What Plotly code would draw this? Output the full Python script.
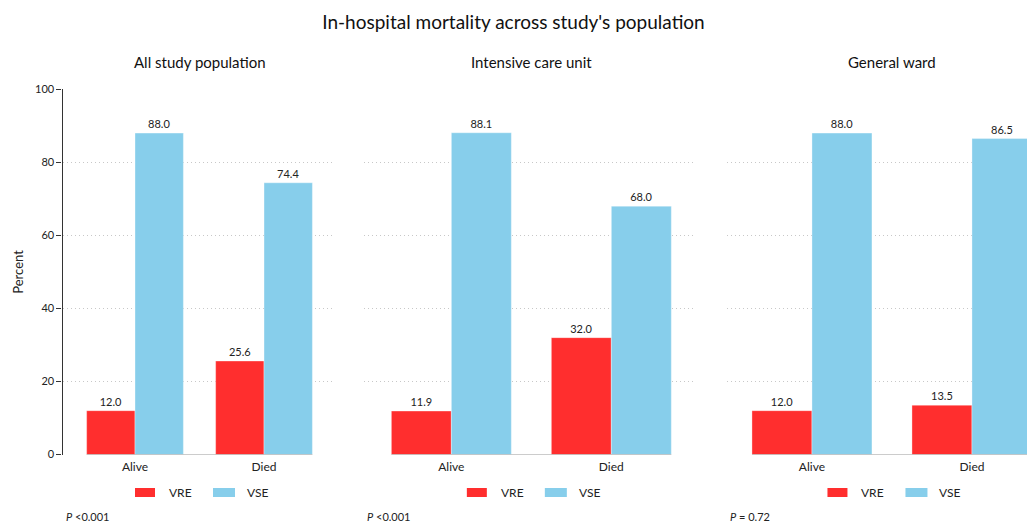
import plotly.graph_objects as go

# ---- data ----
categories = ["Alive", "Died"]
panel_titles = ["All study population", "Intensive care unit", "General ward"]
vre_all = [12.0, 25.6]
vse_all = [88.0, 74.4]
vre_icu = [11.9, 32.0]
vse_icu = [88.1, 68.0]
vre_ward = [12.0, 13.5]
vse_ward = [88.0, 86.5]
p_labels = ["<i>P</i> &lt;0.001", "<i>P</i> &lt;0.001", "<i>P</i> = 0.72"]
series_names = ["VRE", "VSE"]
y_ticks = [0, 20, 40, 60, 80, 100]

# ---- style ----
W, H = 1027, 523
FONT = "Lato"
RED = "#FF2E2E"
BLUE = "#87CEEB"
TEXT = "#222222"

panels = [(vre_all, vse_all), (vre_icu, vse_icu), (vre_ward, vse_ward)]
x_domains = [(62.5 / W, 333.3 / W), (364 / W, 695 / W), (727 / W, 1.0)]
x_ranges = [(-0.562, 1.537), (-0.546, 1.523), (-0.531, 1.344)]
y_domain = ((H - 454.5) / H, (H - 89.3) / H)
bargap = 0.25

fig = go.Figure()

for i, (vre, vse) in enumerate(panels):
    ax = "" if i == 0 else str(i + 1)
    for name, vals, col in zip(series_names, (vre, vse), (RED, BLUE)):
        fig.add_trace(go.Bar(
            x=categories, y=vals, name=name,
            marker=dict(color=col, line=dict(color="rgba(255,255,255,0.35)", width=1)),
            texttemplate="%{y:.1f}", textposition="outside",
            textfont=dict(family=FONT, size=11, color=TEXT),
            cliponaxis=False, showlegend=False,
            xaxis="x" + ax, yaxis="y" + ax,
        ))

layout = dict(
    width=W, height=H,
    margin=dict(l=0, r=0, t=0, b=0, autoexpand=False),
    paper_bgcolor="white", plot_bgcolor="white",
    barmode="group", bargap=bargap, bargroupgap=0,
    font=dict(family=FONT, color=TEXT),
    title=dict(text="In-hospital mortality across study's population",
               x=0.5, xanchor="center", y=(H - 22) / H, yanchor="middle",
               font=dict(family=FONT, size=19, color="#111111")),
    showlegend=False,
)

annotations = []
shapes = []
half = (1 - bargap) / 2
for i in range(3):
    ax = "" if i == 0 else str(i + 1)
    xa = "xaxis" + ax
    ya = "yaxis" + ax
    layout[xa] = dict(
        domain=list(x_domains[i]), range=list(x_ranges[i]),
        anchor="y" + ax, showline=False, showgrid=False, zeroline=False,
        ticks="", tickfont=dict(family=FONT, size=12, color=TEXT),
        ticklabelstandoff=3, automargin=False, fixedrange=True,
    )
    layout[ya] = dict(
        domain=list(y_domain), range=[0, 100], anchor="x" + ax,
        tickvals=y_ticks, showgrid=True, gridcolor="#c8c8c8", gridwidth=1,
        griddash="1px,3px", zeroline=False, automargin=False, fixedrange=True,
    )
    if i == 0:
        layout[ya].update(
            showline=True, linecolor="#333333", linewidth=1.3,
            ticks="outside", ticklen=5, tickcolor="#333333",
            showticklabels=True, tickfont=dict(family=FONT, size=11, color=TEXT),
            title=dict(text="Percent", font=dict(family=FONT, size=13, color=TEXT), standoff=8),
        )
    else:
        layout[ya].update(showline=False, ticks="", showticklabels=False)

    # baseline under the bars
    shapes.append(dict(type="line", xref="x" + ax, yref="y" + ax,
                       x0=-half, x1=len(categories) - 1 + half, y0=0, y1=0,
                       line=dict(color="#9a9a9a", width=1), layer="above"))

    # panel centre in pixels (midway between the two categories)
    d0, d1 = x_domains[i]
    r0, r1 = x_ranges[i]
    cx = d0 * W + (0.5 - r0) / (r1 - r0) * (d1 - d0) * W

    # panel title
    annotations.append(dict(text=panel_titles[i], x=cx / W, xref="paper",
                            y=(H - 62) / H, yref="paper", xanchor="center",
                            yanchor="middle", showarrow=False,
                            font=dict(family=FONT, size=15, color="#111111")))

    # legend: swatch + label per series
    ly0, ly1 = (H - 497) / H, (H - 488) / H
    for (s0, s1, tx), name, col in zip([(-64.5, -44.5, -32.5), (13.5, 35.5, 45.5)],
                                       series_names, (RED, BLUE)):
        shapes.append(dict(type="rect", xref="paper", yref="paper",
                           x0=(cx + s0) / W, x1=(cx + s1) / W, y0=ly0, y1=ly1,
                           fillcolor=col, line=dict(width=0)))
        annotations.append(dict(text=name, x=(cx + tx) / W, xref="paper",
                                y=(H - 492.5) / H, yref="paper", xanchor="left",
                                yanchor="middle", showarrow=False,
                                font=dict(family=FONT, size=12, color=TEXT)))

    # p-value note
    annotations.append(dict(text=p_labels[i], x=0, xref="x" + ax + " domain",
                            xshift=1, y=(H - 516) / H, yref="paper",
                            xanchor="left", yanchor="middle", showarrow=False,
                            font=dict(family=FONT, size=11, color=TEXT)))

layout["annotations"] = annotations
layout["shapes"] = shapes
fig.update_layout(**layout)

fig.write_html("out.html", config={"displayModeBar": False})
